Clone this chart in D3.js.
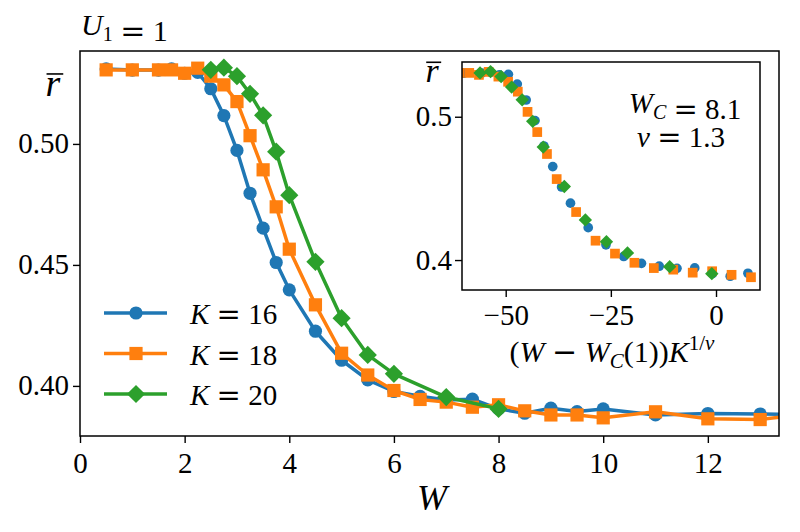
<!DOCTYPE html>
<html><head><meta charset="utf-8">
<script src="https://cdn.jsdelivr.net/npm/d3@7"></script>
<style>
html,body{margin:0;padding:0;background:#fff;}
svg text{font-family:"Liberation Serif","DejaVu Serif",serif;fill:#000;}
</style></head>
<body><svg id="chart" width="800" height="532"></svg>
<script>
// ---------------- data ----------------
const W16 = [0.5,1,1.5,1.75,2,2.25,2.5,2.75,3,3.25,3.5,3.75,4,4.5,5,5.5,6,6.5,7,7.5,8,8.5,9,9.5,10,11,12,13,14];
const r16 = [0.5310,0.5305,0.5305,0.5310,0.5292,0.5296,0.5228,0.5117,0.4973,0.4796,0.4652,0.4510,0.4397,0.4226,0.4106,0.4025,0.3977,0.3957,0.3942,0.3945,0.3905,0.3887,0.3908,0.3894,0.3905,0.3880,0.3886,0.3884,0.3880];
const W18 = [0.5,1,1.5,1.75,2,2.25,2.5,2.75,3,3.25,3.5,3.75,4,4.5,5,5.5,6,6.5,7,7.5,8,8.5,9,9.5,10,11,12,13,14];
const r18 = [0.5306,0.5306,0.5306,0.5306,0.5292,0.5313,0.5280,0.5244,0.5175,0.5034,0.4893,0.4740,0.4565,0.4335,0.4135,0.4045,0.3981,0.3944,0.3933,0.3912,0.3922,0.3897,0.3880,0.3880,0.3868,0.3893,0.3864,0.3861,0.3887];
const W20 = [2.5,2.75,3,3.25,3.5,3.75,4,4.5,5,5.5,6,7,8];
const r20 = [0.5306,0.5315,0.5280,0.5207,0.5118,0.4968,0.4788,0.4513,0.4280,0.4128,0.4050,0.3954,0.3905];
// inset: scaled abscissa (W - W_C) K^(1/nu), one value per point above (W_C = 8.1, nu = 1.3)
const X16 = [-64.13,-59.91,-55.69,-53.58,-51.47,-49.36,-47.25,-45.14,-43.03,-40.92,-38.81,-36.71,-34.60,-30.38,-26.16,-21.94,-17.72,-13.50,-9.28,-5.06,-0.84,3.38,7.59,11.81,16.03,24.47,32.91,41.35,49.78];
const X18 = [-70.22,-65.60,-60.98,-58.67,-56.36,-54.05,-51.74,-49.43,-47.12,-44.81,-42.50,-40.19,-37.88,-33.26,-28.64,-24.02,-19.40,-14.78,-10.16,-5.54,-0.92,3.70,8.32,12.93,17.55,26.79,36.03,45.27,54.51];
const X20 = [-56.10,-53.60,-51.09,-48.59,-46.08,-43.58,-41.07,-36.06,-31.06,-26.05,-21.04,-11.02,-1.00];
const seriesLabels = ["16","18","20"];
const xTicks = [0,2,4,6,8,10,12];
const yTicks = [0.40,0.45,0.50];
const insetXTicks = [-50,-25,0];
const insetYTicks = [0.4,0.5];
const WC = "8.1", NU = "1.3";

// ---------------- layout ----------------
const svg = d3.select("#chart");
const colors = ["#1f77b4","#ff7f0e","#2ca02c"];
const shapes = ["circle","square","diamond"];
const mainX = d3.scaleLinear().domain([0,13.36]).range([80,779]);
const mainY = d3.scaleLinear().domain([0.3793,0.5384]).range([436,51]);
const inX = d3.scaleLinear().domain([-60.39,10.46]).range([462,760]);
const inY = d3.scaleLinear().domain([0.3791,0.5382]).range([290,62]);

const defs = svg.append("defs");
defs.append("clipPath").attr("id","clipMain").append("rect")
  .attr("x",80).attr("y",51).attr("width",699).attr("height",385);
defs.append("clipPath").attr("id","clipIn").append("rect")
  .attr("x",462).attr("y",62).attr("width",298).attr("height",228);

function marker(g, shape, cx, cy, s, color){
  if(shape==="circle"){
    g.append("circle").attr("cx",cx).attr("cy",cy).attr("r",s).attr("fill",color);
  } else if(shape==="square"){
    g.append("rect").attr("x",cx-s).attr("y",cy-s).attr("width",2*s).attr("height",2*s).attr("fill",color);
  } else {
    const d = s*1.38;
    g.append("path").attr("d",`M${cx},${cy-d}L${cx+d},${cy}L${cx},${cy+d}L${cx-d},${cy}Z`).attr("fill",color);
  }
}
// math-style relation sign (wider glyph)
function rel(t, ch){
  t.append("tspan").text(" ");
  t.append("tspan").style("font-family","'DejaVu Serif',serif").attr("font-weight","200").text(ch);
  t.append("tspan").text(" ");
}

// main series
const mainData = [[W16,r16],[W18,r18],[W20,r20]];
const gMain = svg.append("g").attr("clip-path","url(#clipMain)");
mainData.forEach(([ws,rs],i)=>{
  const pts = ws.map((w,j)=>[w,rs[j]]);
  const line = d3.line().x(d=>mainX(d[0])).y(d=>mainY(d[1]));
  const g = gMain.append("g");
  g.append("path").attr("d",line(pts)).attr("fill","none").attr("stroke",colors[i])
    .attr("stroke-width",3.5).attr("stroke-linejoin","round");
  pts.forEach(p=>marker(g,shapes[i],mainX(p[0]),mainY(p[1]),6.6,colors[i]));
});

// main axes
const axB = svg.append("g").attr("transform","translate(0,436)")
  .call(d3.axisBottom(mainX).tickValues(xTicks).tickSize(7).tickFormat(d3.format("d")));
const axL = svg.append("g").attr("transform","translate(80,0)")
  .call(d3.axisLeft(mainY).tickValues(yTicks).tickSize(7).tickFormat(d3.format(".2f")));
[axB,axL].forEach(a=>{
  a.select(".domain").remove();
  a.selectAll(".tick line").attr("stroke","#000").attr("stroke-width",1.4);
  a.selectAll(".tick text").attr("font-size",29).attr("fill","#000")
   .style("font-family","'Liberation Serif',serif");
});
axB.selectAll(".tick text").attr("dy",null).attr("y",37);
axL.selectAll(".tick text").attr("dy",null).attr("x",-11).attr("y",9);
svg.append("rect").attr("x",80).attr("y",51).attr("width",699).attr("height",385)
  .attr("fill","none").attr("stroke","#000").attr("stroke-width",1.5);

// labels
svg.append("text").attr("x",432).attr("y",510).attr("font-size",36).attr("font-style","italic")
  .attr("text-anchor","middle").text("W");
function rbar(x,y,size){
  svg.append("text").attr("x",x).attr("y",y).attr("font-size",size).attr("font-style","italic")
    .attr("text-anchor","middle").text("r");
  svg.append("line").attr("x1",x-size*0.17).attr("x2",x+size*0.27).attr("y1",y-size*0.58).attr("y2",y-size*0.58)
    .attr("stroke","#000").attr("stroke-width",1.6);
}
rbar(53,96,38);
const title = svg.append("text").attr("x",81).attr("y",35).attr("font-size",30);
title.append("tspan").attr("font-style","italic").text("U");
title.append("tspan").attr("font-size",20).attr("dy",6).text("1");
title.append("tspan").attr("dy",-6).text("");
rel(title,"=");
title.append("tspan").text("1");

// legend
seriesLabels.forEach((k,i)=>{
  const y = 313 + i*40.5;
  const g = svg.append("g");
  g.append("line").attr("x1",104).attr("x2",167).attr("y1",y).attr("y2",y)
    .attr("stroke",colors[i]).attr("stroke-width",3.5);
  marker(g,shapes[i],136,y,6.6,colors[i]);
  const t = svg.append("text").attr("x",190).attr("y",y+11).attr("font-size",29);
  t.append("tspan").attr("font-style","italic").text("K");
  rel(t,"=");
  t.append("tspan").text(k);
});

// inset
svg.append("rect").attr("x",462).attr("y",62).attr("width",298).attr("height",228).attr("fill","#fff");
const insetData = [[X16,r16],[X18,r18],[X20,r20]];
const gIn = svg.append("g").attr("clip-path","url(#clipIn)");
insetData.forEach(([xs,rs],i)=>{
  const g = gIn.append("g");
  xs.forEach((x,j)=>marker(g,shapes[i],inX(x),inY(rs[j]),4.85,colors[i]));
});
const iB = svg.append("g").attr("transform","translate(0,290)")
  .call(d3.axisBottom(inX).tickValues(insetXTicks).tickSize(7).tickFormat(d=>d<0?"\u2212"+Math.abs(d):String(d)));
const iL = svg.append("g").attr("transform","translate(462,0)")
  .call(d3.axisLeft(inY).tickValues(insetYTicks).tickSize(7).tickFormat(d3.format(".1f")));
[iB,iL].forEach(a=>{
  a.select(".domain").remove();
  a.selectAll(".tick line").attr("stroke","#000").attr("stroke-width",1.4);
  a.selectAll(".tick text").attr("font-size",29).attr("fill","#000")
   .style("font-family","'Liberation Serif',serif");
});
iB.selectAll(".tick text").attr("dy",null).attr("y",35);
iL.selectAll(".tick text").attr("dy",null).attr("x",-10).attr("y",9);
svg.append("rect").attr("x",462).attr("y",62).attr("width",298).attr("height",228)
  .attr("fill","none").attr("stroke","#000").attr("stroke-width",1.5);
rbar(432,82,34);

const xl = svg.append("text").attr("x",612).attr("y",362).attr("font-size",30).attr("text-anchor","middle");
xl.append("tspan").text("(");
xl.append("tspan").attr("font-style","italic").text("W");
rel(xl,"\u2212");
xl.append("tspan").attr("font-style","italic").text("W");
xl.append("tspan").attr("font-style","italic").attr("font-size",21).attr("dy",6).text("C");
xl.append("tspan").attr("dy",-6).text("(1))");
xl.append("tspan").attr("font-style","italic").text("K");
xl.append("tspan").attr("font-size",21).attr("dy",-12).text("1/");
xl.append("tspan").attr("font-size",21).attr("font-style","italic").text("\u03bd");

const t1 = svg.append("text").attr("x",685).attr("y",113).attr("font-size",29).attr("text-anchor","middle");
t1.append("tspan").attr("font-style","italic").text("W");
t1.append("tspan").attr("font-style","italic").attr("font-size",20).attr("dy",6).text("C");
t1.append("tspan").attr("dy",-6).text("");
rel(t1,"=");
t1.append("tspan").text(WC);
const t2 = svg.append("text").attr("x",681).attr("y",147).attr("font-size",29).attr("text-anchor","middle");
t2.append("tspan").attr("font-style","italic").text("\u03bd");
rel(t2,"=");
t2.append("tspan").text(NU);
</script></body></html>
